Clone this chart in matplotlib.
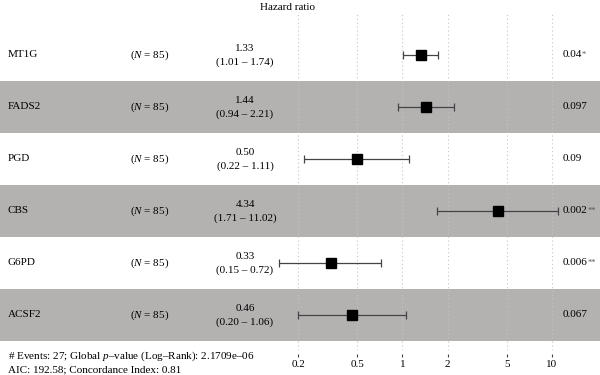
import numpy as np
import matplotlib
matplotlib.use("Agg")
import matplotlib.pyplot as plt
import matplotlib.transforms as mtransforms

plt.rcParams['font.family'] = ['Liberation Serif', 'DejaVu Serif']
plt.rcParams['mathtext.fontset'] = 'custom'
plt.rcParams['mathtext.rm'] = 'Liberation Serif'
plt.rcParams['mathtext.it'] = 'Liberation Serif:italic'

# ---- data ----
genes = ["MT1G", "FADS2", "PGD", "CBS", "G6PD", "ACSF2"]
n_obs = [85, 85, 85, 85, 85, 85]
hr = [1.33, 1.44, 0.50, 4.34, 0.33, 0.46]
ci_low = [1.01, 0.94, 0.22, 1.71, 0.15, 0.20]
ci_high = [1.74, 2.21, 1.11, 11.02, 0.72, 1.06]
pvals = ["0.04", "0.097", "0.09", "0.002", "0.006", "0.067"]
stars = ["*", "", "", "**", "**", ""]
ticks = [0.2, 0.5, 1, 2, 5, 10]
tick_labels = ["0.2", "0.5", "1", "2", "5", "10"]
footer1 = "# Events: 27; Global $p$\u2013value (Log\u2013Rank): 2.1709e\u201306"
footer2 = "AIC: 192.58; Concordance Index: 0.81"

W, H = 600, 375
fig = plt.figure(figsize=(6, 3.75), dpi=100)

# axes spans full width; plot region from pixel y 14 to 350
top_px, bot_px = 14, 350
ax = fig.add_axes([0, 1 - bot_px / H, 1, (bot_px - top_px) / H])
ax.set_xscale('log')
# map 0.2 -> px 298, 10 -> px 552
x02, x10 = 298, 552
ppd = (x10 - x02) / (np.log10(10) - np.log10(0.2))
lo = 10 ** (np.log10(0.2) - x02 / ppd)
hi = 10 ** (1 + (W - x10) / ppd)
ax.set_xlim(lo, hi)

row0, rh = 55, 52
ax.set_ylim((bot_px - row0) / rh, -(row0 - top_px) / rh)

band = '#b4b1b1'
for i in range(len(genes)):
    if i % 2 == 1:
        ax.axhspan(i - 0.5, i + 0.5, color=band, zorder=0, lw=0)

for s in ax.spines.values():
    s.set_visible(False)
ax.spines['bottom'].set_position(('outward', 3))
ax.set_yticks([])
ax.set_xticks(ticks)
ax.set_xticklabels(tick_labels)
ax.minorticks_off()
ax.tick_params(axis='x', length=2.5, width=0.8, color='#444444', pad=1.5,
               labelsize=8, direction='out')
ax.grid(axis='x', which='major', linestyle=(0, (1, 2.5)), color='#c4c4c4',
        linewidth=0.8, zorder=1)
ax.set_axisbelow(True)

y = np.arange(len(genes))
hr_a = np.array(hr)
err = [hr_a - np.array(ci_low), np.array(ci_high) - hr_a]
ax.errorbar(hr, y, xerr=err, fmt='s', color='black', ecolor='#444444',
            elinewidth=0.9, capsize=3.2, capthick=0.9, markersize=7.2,
            zorder=3)

tr = mtransforms.blended_transform_factory(fig.transFigure, ax.transData)
fs = 8
ptexts = []
for i in range(len(genes)):
    ax.text(8 / W, i, genes[i], transform=tr, ha='left', va='center', fontsize=fs)
    ax.text(150 / W, i, "($N$ = %d)" % n_obs[i], transform=tr, ha='center',
            va='center', fontsize=fs)
    ax.text(245 / W, i - 0.13, "%.2f" % hr[i], transform=tr, ha='center',
            va='center', fontsize=fs)
    ax.text(245 / W, i + 0.14, "(%.2f \u2013 %.2f)" % (ci_low[i], ci_high[i]),
            transform=tr, ha='center', va='center', fontsize=fs)
    ptexts.append(ax.text(563 / W, i, pvals[i], transform=tr, ha='left',
                          va='center', fontsize=fs))

fig.text(287 / W, 1 - 8 / H, "Hazard ratio", ha='center', va='center', fontsize=fs)
fig.text(8 / W, 1 - 356 / H, footer1, ha='left', va='center', fontsize=fs)
fig.text(8 / W, 1 - 370 / H, footer2, ha='left', va='center', fontsize=fs)

fig.canvas.draw()
renderer = fig.canvas.get_renderer()
for i, t in enumerate(ptexts):
    if stars[i]:
        bb = t.get_window_extent(renderer)
        ax.text((bb.x1 - 0.5) / W, i + 0.0, stars[i], transform=tr, ha='left',
                va='center', fontsize=6, color='#555555')

fig.savefig("out.png", dpi=100)
